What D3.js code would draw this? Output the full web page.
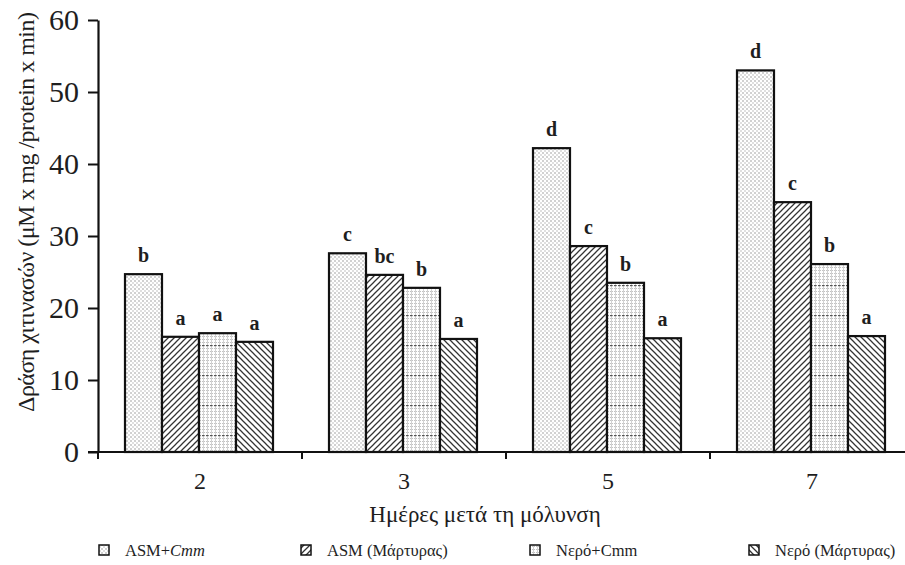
<!DOCTYPE html>
<html>
<head>
<meta charset="utf-8">
<script src="https://cdn.jsdelivr.net/npm/d3@7/dist/d3.min.js"></script>
<style>
  html, body { margin: 0; padding: 0; background: #fff; }
  svg { display: block; }
  svg text { font-family: "Liberation Serif", "Times New Roman", "DejaVu Serif", serif; fill: #1e1e1e; }
</style>
</head>
<body>
<svg id="chart" width="905" height="565"></svg>
<script>
// Days after infection
const days = ["2", "3", "5", "7"];
// Treatments (legend order)
const treatments = ["ASM+Cmm", "ASM (Μάρτυρας)", "Νερό+Cmm", "Νερό (Μάρτυρας)"];
// Chitinase activity per treatment, one value per day
const asmCmm    = [24.7, 27.6, 42.2, 53.0];
const asmCtrl   = [16.0, 24.6, 28.6, 34.7];
const waterCmm  = [16.5, 22.8, 23.5, 26.1];
const waterCtrl = [15.3, 15.7, 15.8, 16.1];
// Significance letters per treatment, one per day
const lettersAsmCmm    = ["b", "c", "d", "d"];
const lettersAsmCtrl   = ["a", "bc", "c", "c"];
const lettersWaterCmm  = ["a", "b", "b", "b"];
const lettersWaterCtrl = ["a", "a", "a", "a"];
const yTicks = [0, 10, 20, 30, 40, 50, 60];

const seriesValues = [asmCmm, asmCtrl, waterCmm, waterCtrl];
const seriesLetters = [lettersAsmCmm, lettersAsmCtrl, lettersWaterCmm, lettersWaterCtrl];
const patternIds = ["pDots", "pRight", "pGrid", "pLeft"];

const rows = [];
days.forEach((d, i) => {
  treatments.forEach((t, j) => {
    rows.push({ day: d, treatment: t, value: seriesValues[j][i], letter: seriesLetters[j][i], k: j });
  });
});

const svg = d3.select("#chart");
const defs = svg.append("defs");

// Stipple of gray dots on a diagonal lattice
const pd = defs.append("pattern").attr("id", "pDots").attr("patternUnits", "userSpaceOnUse")
  .attr("width", 4).attr("height", 4);
pd.append("rect").attr("width", 4).attr("height", 4).attr("fill", "#fff");
pd.append("circle").attr("cx", 1).attr("cy", 1).attr("r", 0.75).attr("fill", "#8c8c8c");
pd.append("circle").attr("cx", 3).attr("cy", 3).attr("r", 0.75).attr("fill", "#b0b0b0");

// Diagonal hatch rising to the right
const pr = defs.append("pattern").attr("id", "pRight").attr("patternUnits", "userSpaceOnUse")
  .attr("width", 6).attr("height", 6);
pr.append("rect").attr("width", 6).attr("height", 6).attr("fill", "#fff");
pr.append("path").attr("d", "M-1,1 L1,-1 M0,6 L6,0 M5,7 L7,5")
  .attr("stroke", "#333").attr("stroke-width", 1.25);

// Diagonal hatch falling to the right
const pl = defs.append("pattern").attr("id", "pLeft").attr("patternUnits", "userSpaceOnUse")
  .attr("width", 6).attr("height", 6);
pl.append("rect").attr("width", 6).attr("height", 6).attr("fill", "#fff");
pl.append("path").attr("d", "M-1,5 L1,7 M0,0 L6,6 M5,-1 L7,1")
  .attr("stroke", "#333").attr("stroke-width", 1.25);

// Fine dotted grid with an occasional darker dashed row
const pg = defs.append("pattern").attr("id", "pGrid").attr("patternUnits", "userSpaceOnUse")
  .attr("width", 4).attr("height", 30);
pg.append("rect").attr("width", 4).attr("height", 30).attr("fill", "#fff");
for (let yy = 0; yy < 30; yy += 3) {
  pg.append("rect").attr("x", 0).attr("y", yy).attr("width", 3).attr("height", 1).attr("fill", "#c2c2c2");
}
pg.append("rect").attr("x", 1).attr("y", 0).attr("width", 1).attr("height", 30).attr("fill", "#d2d2d2");
pg.append("rect").attr("x", 0).attr("y", 15).attr("width", 2.5).attr("height", 1.2).attr("fill", "#555");

const mLeft = 98, mRight = 914, mTop = 20, mBottom = 452;

const x0 = d3.scaleBand().domain(days).range([mLeft, mRight]).paddingInner(0).paddingOuter(0);
const x1 = d3.scaleBand().domain(treatments).range([27, x0.bandwidth() - 29]).padding(0);
const y = d3.scaleLinear().domain([0, 60]).range([mBottom, mTop]);

// Bars
const groups = svg.append("g").selectAll("g").data(days).join("g")
  .attr("transform", d => `translate(${x0(d)},0)`);

groups.selectAll("rect").data(d => rows.filter(r => r.day === d)).join("rect")
  .attr("x", r => x1(r.treatment))
  .attr("y", r => y(r.value))
  .attr("width", x1.bandwidth())
  .attr("height", r => y(0) - y(r.value))
  .attr("fill", r => `url(#${patternIds[r.k]})`)
  .attr("stroke", "#111").attr("stroke-width", 2.2);

// Significance letters above the bars
groups.selectAll("text.sig").data(d => rows.filter(r => r.day === d)).join("text")
  .attr("class", "sig")
  .attr("x", r => x1(r.treatment) + x1.bandwidth() / 2)
  .attr("y", r => y(r.value) - 12)
  .attr("text-anchor", "middle")
  .attr("font-size", 20).attr("font-weight", "bold")
  .text(r => r.letter);

// Y axis
const yAxis = svg.append("g").attr("transform", `translate(${mLeft},0)`)
  .call(d3.axisLeft(y).tickValues(yTicks).tickSize(10).tickPadding(9).tickSizeOuter(0));
yAxis.select(".domain").attr("stroke", "#111").attr("stroke-width", 2.2);
yAxis.selectAll(".tick line").attr("stroke", "#111").attr("stroke-width", 2);
yAxis.selectAll(".tick text").attr("font-size", 30).attr("fill", "#1e1e1e")
  .attr("font-family", "Liberation Serif, serif");

// X axis: labels centred in each band, ticks on band boundaries
const xAxis = svg.append("g").attr("transform", `translate(0,${mBottom})`)
  .call(d3.axisBottom(x0).tickSize(0).tickPadding(20));
xAxis.select(".domain").remove();
xAxis.selectAll(".tick text").attr("font-size", 24).attr("fill", "#1e1e1e")
  .attr("font-family", "Liberation Serif, serif");
svg.append("line").attr("x1", mLeft - 10).attr("x2", 905).attr("y1", mBottom).attr("y2", mBottom)
  .attr("stroke", "#111").attr("stroke-width", 2.2);
svg.append("g").selectAll("line").data(days).join("line")
  .attr("x1", d => x0(d)).attr("x2", d => x0(d))
  .attr("y1", mBottom).attr("y2", mBottom + 7)
  .attr("stroke", "#111").attr("stroke-width", 2);

// Axis titles
svg.append("text").attr("x", 485).attr("y", 522).attr("text-anchor", "middle")
  .attr("font-size", 23).text("Ημέρες μετά τη μόλυνση");
svg.append("text").attr("transform", "translate(34,212) rotate(-90)").attr("text-anchor", "middle")
  .attr("font-size", 24).attr("textLength", 400).attr("lengthAdjust", "spacing")
  .text("Δράση χιτινασών (μM x mg /protein x min)");

// Legend
const legendTextX = [125, 327, 556, 775];
const legend = svg.append("g").selectAll("g").data(treatments).join("g")
  .attr("transform", (d, i) => `translate(${legendTextX[i]},0)`);
legend.append("rect").attr("x", -26).attr("y", 545).attr("width", 10).attr("height", 10)
  .attr("fill", (d, i) => `url(#${patternIds[i]})`).attr("stroke", "#111").attr("stroke-width", 1.5);
const lt = legend.append("text").attr("x", 0).attr("y", 556).attr("font-size", 16.5);
lt.each(function(d, i) {
  const t = d3.select(this);
  if (i === 0) {
    t.append("tspan").text("ASM+");
    t.append("tspan").attr("font-style", "italic").text("Cmm");
  } else {
    t.text(d);
  }
});
</script>
</body>
</html>
